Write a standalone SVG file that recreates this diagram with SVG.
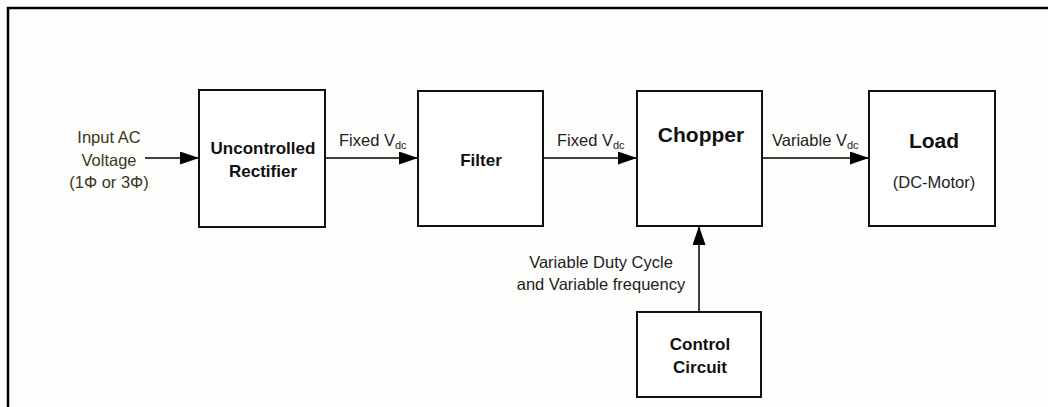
<svg xmlns="http://www.w3.org/2000/svg" width="1048" height="407" viewBox="0 0 1048 407">
<defs>
<marker id="ahL" markerWidth="19" markerHeight="13" refX="19" refY="6.5" orient="auto" markerUnits="userSpaceOnUse">
<path d="M0,0 L19,6.5 L0,13 Z" fill="#000"/>
</marker>
<style>
.box{fill:#fff;stroke:#111;stroke-width:2}
.t{font-family:"Liberation Sans",Arial,sans-serif;font-size:16.5px;fill:#222;text-anchor:middle}
.s{text-anchor:start}
.b{font-family:"Liberation Sans",Arial,sans-serif;font-size:17px;font-weight:bold;fill:#111;text-anchor:middle}
.bl{font-family:"Liberation Sans",Arial,sans-serif;font-size:21px;font-weight:bold;fill:#111;text-anchor:middle}
.in{fill:#3a3820}
.c{stroke:#000;stroke-width:1.5;fill:none}
.sub{font-size:11px}
</style>
</defs>
<rect width="1048" height="407" fill="#fdfdfb"/>
<path d="M8,407 V8 H1048" fill="none" stroke="#000" stroke-width="2.5"/>

<g id="input-label">
<text class="t in" x="109" y="143">Input AC</text>
<text class="t in" x="109" y="166">Voltage</text>
<text class="t in" x="109" y="188">(1Φ or 3Φ)</text>
</g>

<g id="rectifier">
<rect class="box" x="199" y="90" width="126" height="137"/>
<text class="b" x="263" y="154">Uncontrolled</text>
<text class="b" x="263" y="177">Rectifier</text>
</g>

<g id="filter">
<rect class="box" x="418" y="91" width="125" height="135"/>
<text class="b" x="481" y="166">Filter</text>
</g>

<g id="chopper">
<rect class="box" x="637" y="91" width="125" height="135"/>
<text class="bl" x="701" y="142">Chopper</text>
</g>

<g id="load">
<rect class="box" x="869" y="91" width="126" height="135"/>
<text class="bl" x="934" y="148">Load</text>
<text class="t" x="934" y="188">(DC-Motor)</text>
</g>

<g id="control">
<rect class="box" x="637" y="312" width="124" height="85"/>
<text class="b" x="700" y="350">Control</text>
<text class="b" x="700" y="373">Circuit</text>
</g>

<g id="connectors">
<line class="c" x1="145" y1="158" x2="199" y2="158" marker-end="url(#ahL)"/>
<line class="c" x1="325" y1="158" x2="418" y2="158" marker-end="url(#ahL)"/>
<line class="c" x1="543" y1="158" x2="637" y2="158" marker-end="url(#ahL)"/>
<line class="c" x1="762" y1="158" x2="869" y2="158" marker-end="url(#ahL)"/>
<line class="c" x1="699" y1="312" x2="699" y2="226" stroke-width="2" marker-end="url(#ahL)"/>
<text class="t s" x="339" y="146">Fixed V<tspan class="sub" dy="3">dc</tspan></text>
<text class="t s" x="557" y="146">Fixed V<tspan class="sub" dy="3">dc</tspan></text>
<text class="t s" x="772" y="146">Variable V<tspan class="sub" dy="3">dc</tspan></text>
<text class="t" x="601" y="268">Variable Duty Cycle</text>
<text class="t" x="601" y="290">and Variable frequency</text>
</g>
</svg>
